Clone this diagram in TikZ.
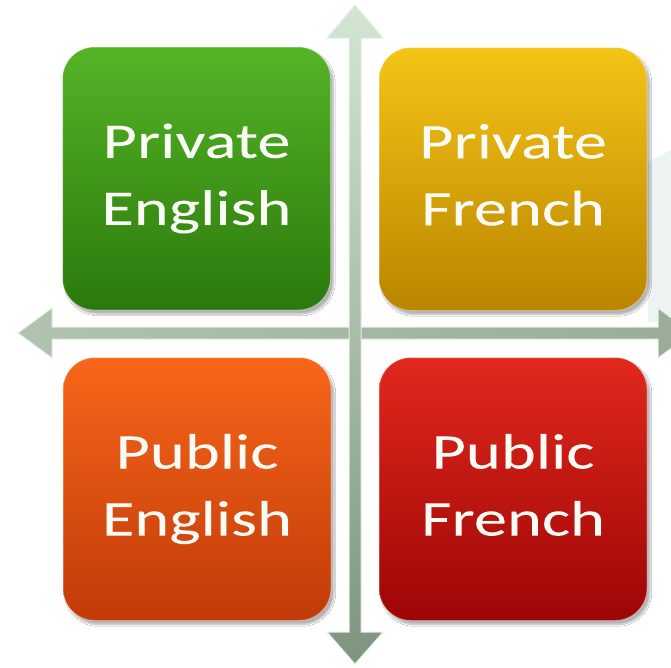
\documentclass[tikz,border=0pt]{standalone}
\usepackage{fontspec}
\newfontfamily\boxfont[FakeStretch=1.33,FakeBold=0.4]{Carlito}
\usetikzlibrary{shadows.blur}
\definecolor{gTop}{HTML}{55B426}
\definecolor{gBot}{HTML}{2B790C}
\definecolor{yTop}{HTML}{F4C416}
\definecolor{yBot}{HTML}{BA8500}
\definecolor{oTop}{HTML}{F7661A}
\definecolor{oBot}{HTML}{C13A08}
\definecolor{rTop}{HTML}{E2281D}
\definecolor{rBot}{HTML}{9C0606}
\definecolor{axTop}{HTML}{D3E5D3}
\definecolor{axBot}{HTML}{7E947F}
\definecolor{axL}{HTML}{B0C3AF}
\definecolor{axR}{HTML}{98AC98}
\definecolor{axEdge}{HTML}{E6EFE6}
\definecolor{paleBg}{HTML}{EDF2F3}
\definecolor{txt}{HTML}{FBFBF6}
\tikzset{
  qbox/.style={rectangle, rounded corners=32pt, minimum width=268pt, minimum height=263pt,
    inner sep=0pt, text=txt, align=center,
    font=\boxfont\fontsize{50}{67}\selectfont,
    draw=white, draw opacity=0.35, line width=1pt,
    blur shadow={shadow xshift=3pt, shadow yshift=-4pt, shadow blur steps=6, shadow opacity=30}},
  axis/.style={draw=axEdge, line width=1pt, line join=miter}
}
\begin{document}
\begin{tikzpicture}[x=1pt,y=-1pt]
\useasboundingbox (0,0) rectangle (671,667);
\clip (0,0) rectangle (671,667);
\fill[white] (0,0) rectangle (671,667);
% pale background shape
\fill[paleBg] (648,162) -- (671,150) -- (671,322) -- (648,322) -- cycle;
% horizontal axis
\coordinate (hl) at (18,333);
\coordinate (hr) at (692,333);
\draw[axis, left color=axL, right color=axR]
  (hl) -- (52,308) -- (52,327) -- (658,327) -- (658,308) -- (hr)
  -- (658,358) -- (658,339) -- (52,339) -- (52,358) -- cycle;
% vertical axis
\coordinate (vt) at (355,5);
\coordinate (vb) at (355,664);
\draw[axis, top color=axTop, bottom color=axBot]
  (vt) -- (383,38) -- (361,38) -- (361,632) -- (383,632) -- (vb)
  -- (327,632) -- (349,632) -- (349,38) -- (327,38) -- cycle;
% boxes
\node[qbox, top color=gTop, bottom color=gBot] (pe) at (196.5,178.5) {Private\\English};
\node[qbox, top color=yTop, bottom color=yBot] (pf) at (513,179) {Private\\French\vphantom{g}};
\node[qbox, top color=oTop, bottom color=oBot] (ue) at (197,489) {Public\\English};
\node[qbox, top color=rTop, bottom color=rBot] (uf) at (513,489) {Public\\French\vphantom{g}};
\end{tikzpicture}
\end{document}
